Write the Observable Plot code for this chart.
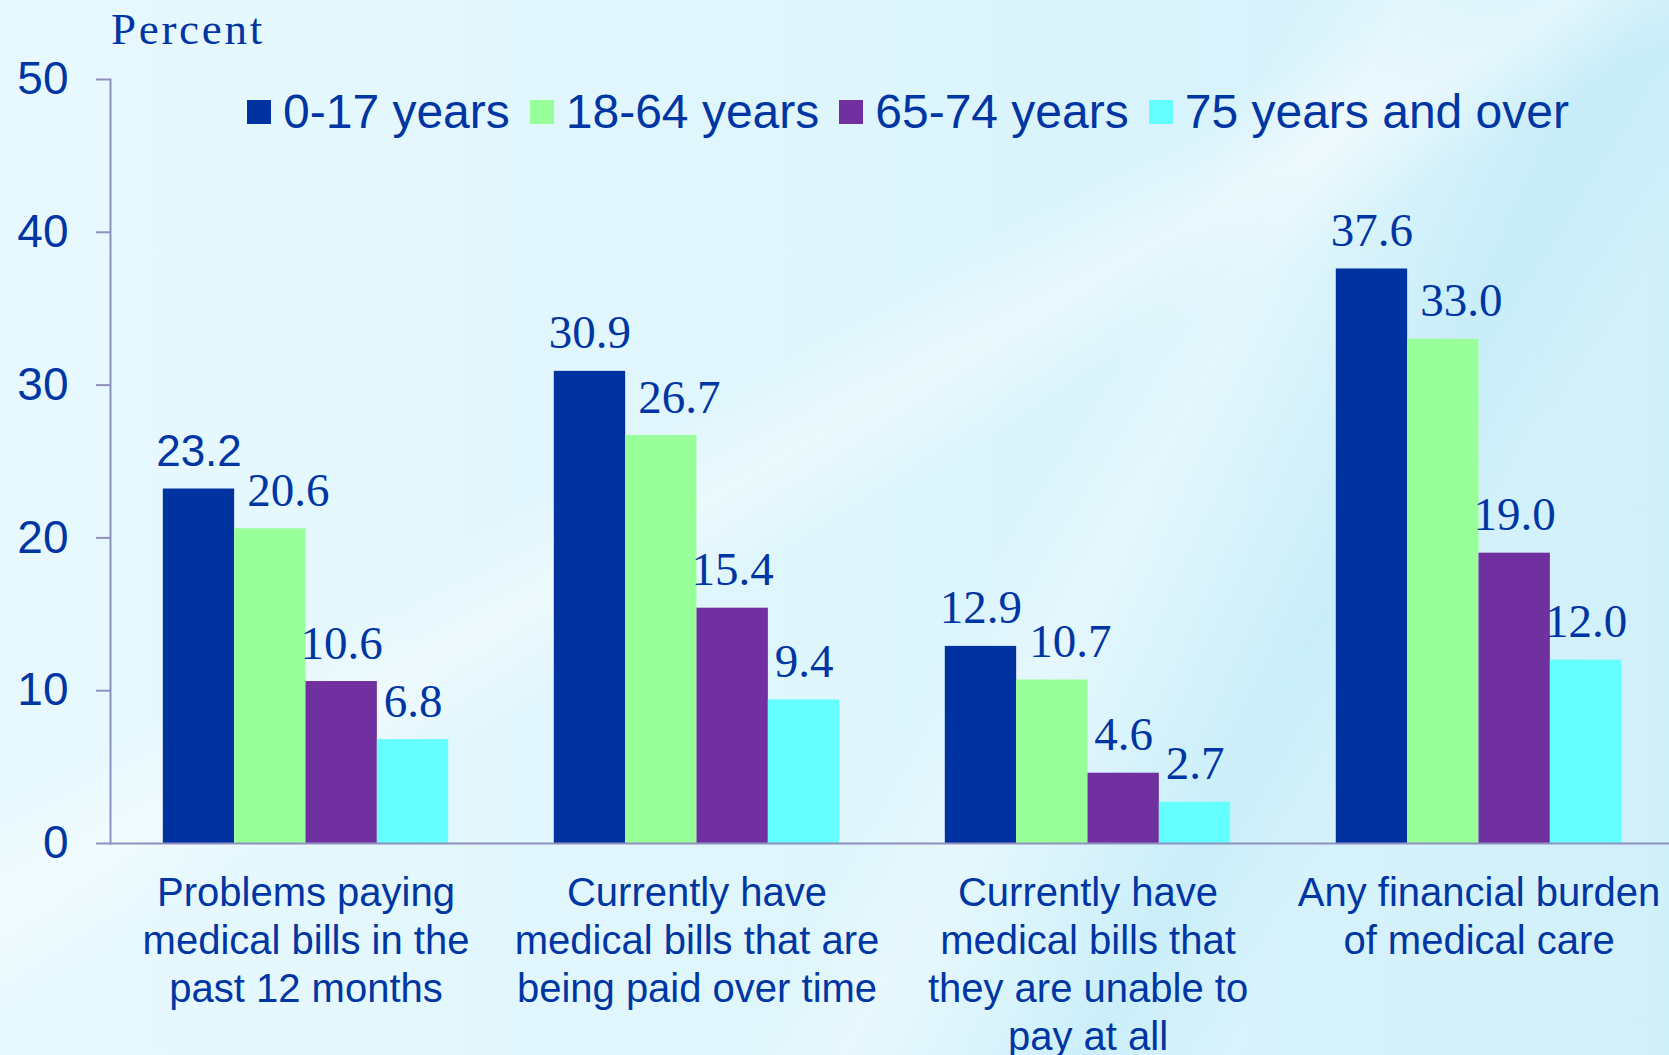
<!DOCTYPE html>
<html>
<head>
<meta charset="utf-8">
<script src="https://cdn.jsdelivr.net/npm/d3@7"></script>
<script src="https://cdn.jsdelivr.net/npm/@observablehq/plot@0.6"></script>
<style>
  html, body { margin: 0; padding: 0; overflow: hidden; }
  body {
    width: 1669px; height: 1055px;
    background:
      linear-gradient(150deg, rgba(255,255,255,0) 40%, rgba(255,255,255,0.40) 45%, rgba(255,255,255,0) 50%),
      linear-gradient(118deg, rgba(255,255,255,0) 58%, rgba(255,255,255,0.30) 63%, rgba(255,255,255,0) 68%),
      linear-gradient(118deg, rgba(185,232,248,0) 68%, rgba(185,232,248,0.45) 74%, rgba(185,232,248,0) 80%),
      linear-gradient(90deg, #E8F9FE 0%, #DDF5FC 55%, #D0F0FA 100%);
  }
  #wrap { position: relative; width: 1669px; height: 1055px; }
  #chart { position: absolute; left: 0; top: 0; }
  #percent {
    position: absolute; left: 111px; top: 7px;
    font-family: "Liberation Serif", "Times New Roman", serif;
    font-size: 45px; line-height: 45px; letter-spacing: 2.7px;
    color: #0036A3; white-space: nowrap;
  }
  #legend {
    position: absolute; left: 247px; top: 88px;
    display: flex; align-items: center;
    font-family: "Liberation Sans", Arial, sans-serif;
    font-size: 48px; line-height: 48px; color: #0036A3; white-space: nowrap;
  }
  #legend .item { display: flex; align-items: center; margin-right: 20px; }
  #legend .sw { width: 24px; height: 24px; margin-right: 12px; }
</style>
</head>
<body>
<div id="wrap">
  <div id="chart"></div>
  <div id="percent"></div>
  <div id="legend"></div>
</div>
<script>
// ---- data ----
const categories = [
  "Problems paying\nmedical bills in the\npast 12 months",
  "Currently have\nmedical bills that are\nbeing paid over time",
  "Currently have\nmedical bills that\nthey are unable to\npay at all",
  "Any financial burden\nof medical care"
];
const series = ["0-17 years", "18-64 years", "65-74 years", "75 years and over"];
const colors = ["#0033A0", "#99FF99", "#7030A0", "#66FFFF"];
const values0to17 = [23.2, 30.9, 12.9, 37.6];
const values18to64 = [20.6, 26.7, 10.7, 33.0];
const values65to74 = [10.6, 15.4, 4.6, 19.0];
const values75plus = [6.8, 9.4, 2.7, 12.0];
const yTicks = [0, 10, 20, 30, 40, 50];
const yLabel = "Percent";

const seriesValues = [values0to17, values18to64, values65to74, values75plus];
const data = [];
categories.forEach((c, ci) => {
  series.forEach((s, si) => {
    data.push({category: c, series: s, value: seriesValues[si][ci]});
  });
});

const textColor = "#0036A3";
const axisColor = "#9090C0";
// the very first label is set in a sans face in the original
const isSans = d => d.category === categories[0] && d.series === series[0];
const serifFont = "'Liberation Serif', 'Times New Roman', serif";
const sansFont = "'Liberation Sans', Arial, sans-serif";
const labelStyle = {fx: "category", x: "series", y: "value", text: d => d.value.toFixed(1),
                    dy: -23, lineAnchor: "bottom", fill: textColor};

const chart = Plot.plot({
  width: 1669,
  height: 1055,
  marginLeft: 110,
  marginRight: -5,
  marginTop: 79,
  marginBottom: 212,
  style: {background: "transparent", overflow: "visible"},
  fx: {domain: categories, paddingInner: 0, paddingOuter: 0, label: null},
  x: {domain: series, paddingInner: 0, paddingOuter: 0.74, round: false, axis: null},
  y: {domain: [0, 50], label: null},
  color: {domain: series, range: colors},
  marks: [
    Plot.barY(data, {fx: "category", x: "series", y: "value", fill: "series"}),
    Plot.frame({anchor: "left", facet: "super", stroke: axisColor, strokeWidth: 2}),
    Plot.ruleY([0], {stroke: axisColor, strokeWidth: 2}),
    Plot.axisY({ticks: yTicks, tickSize: 14, text: null, stroke: axisColor, strokeWidth: 2, label: null}),
    Plot.axisY({ticks: yTicks, tickSize: 0, tickPadding: 42, fill: textColor, fontSize: 46,
                fontFamily: sansFont, label: null}),
    // labels of the 18-64 series sit a little to the right of their bars
    Plot.text(data.filter(d => !isSans(d) && d.series !== series[1]),
              {...labelStyle, fontSize: 47, fontFamily: serifFont}),
    Plot.text(data.filter(d => d.series === series[1]),
              {...labelStyle, dx: 18, fontSize: 47, fontFamily: serifFont}),
    Plot.text(data.filter(isSans), {...labelStyle, fontSize: 44, fontFamily: sansFont}),
    Plot.axisFx({anchor: "bottom", tickSize: 0, tickPadding: 28, fontSize: 40, lineHeight: 1.2,
                 fill: textColor, fontFamily: sansFont, label: null})
  ]
});
document.getElementById("chart").appendChild(chart);

document.getElementById("percent").textContent = yLabel;

const legend = document.getElementById("legend");
series.forEach((s, i) => {
  const item = document.createElement("div");
  item.className = "item";
  const sw = document.createElement("div");
  sw.className = "sw";
  sw.style.background = colors[i];
  const label = document.createElement("span");
  label.textContent = s;
  item.appendChild(sw);
  item.appendChild(label);
  legend.appendChild(item);
});
</script>
</body>
</html>
